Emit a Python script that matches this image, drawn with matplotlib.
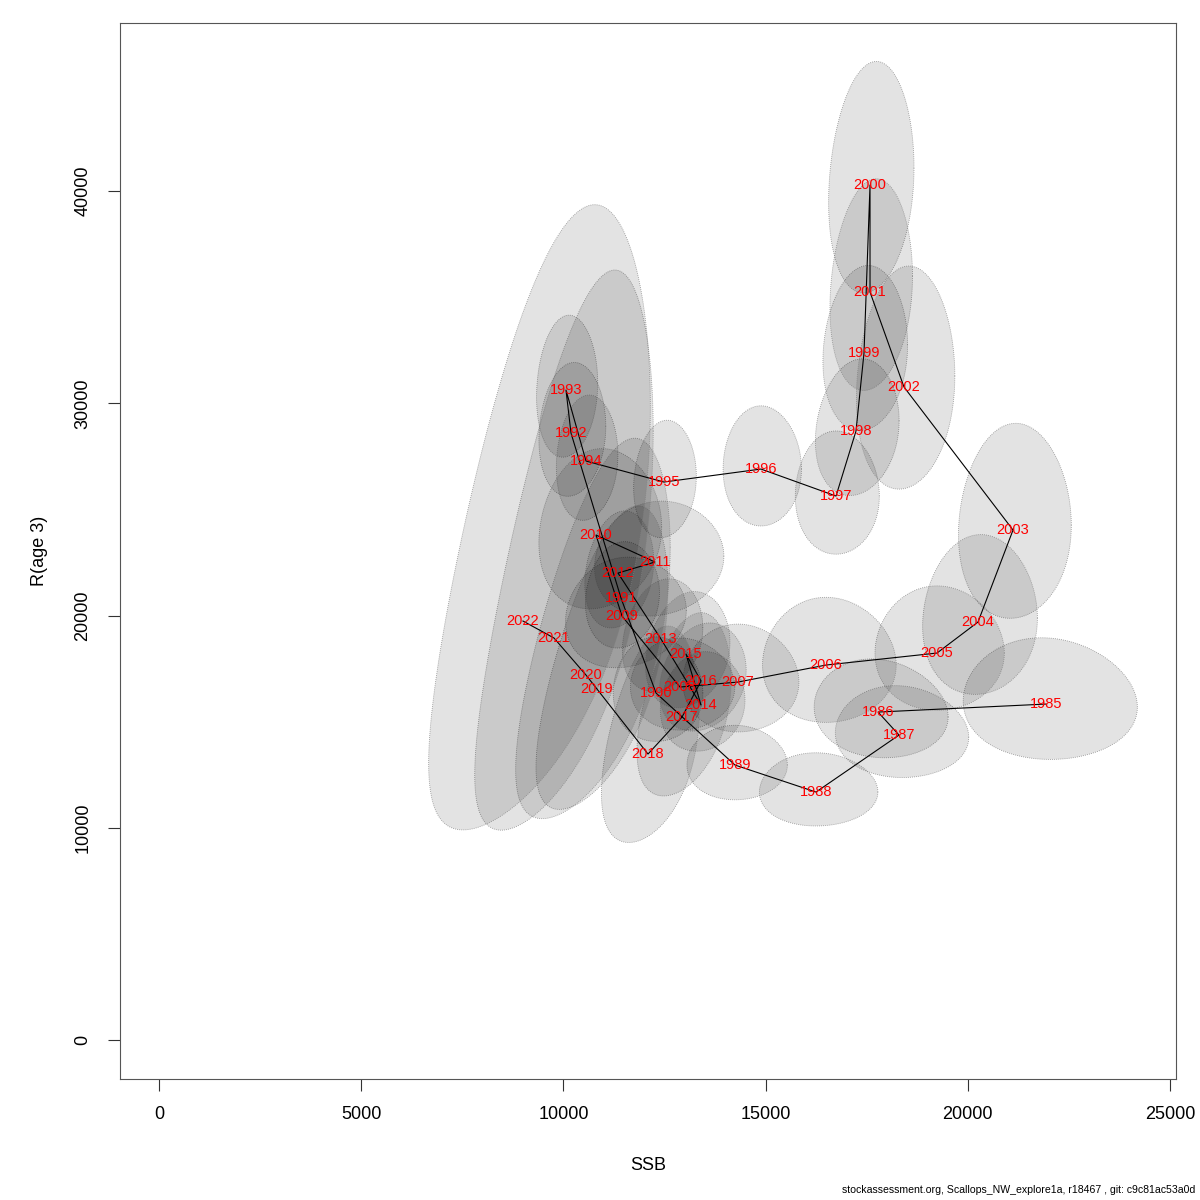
import numpy as np
import matplotlib
matplotlib.use("Agg")
import matplotlib.pyplot as plt
from matplotlib.patches import Polygon

plt.rcParams['font.family'] = ['Liberation Sans', 'DejaVu Sans']

years = list(range(1985, 2023))
ssb = [21934, 17780, 18299, 16246, 14243, 12290, 11424, 10188, 10064, 10559,
       12488, 14886, 16741, 17235, 17433, 17582, 17582, 18422, 21118, 20252,
       19238, 16494, 14318, 12883, 11449, 10806, 12265, 11350, 12413, 13403,
       13032, 13403, 12933, 12092, 10831, 10559, 9768, 9001]
rec = [15830, 15453, 14370, 11684, 12956, 16349, 20825, 28598, 30624, 27279,
       26290, 26902, 25630, 28693, 32367, 40283, 35241, 30766, 24028, 19694,
       18233, 17668, 16867, 16631, 19976, 23793, 22521, 22002, 18893, 15783,
       18186, 16914, 15218, 13475, 16537, 17197, 18940, 19741]
# half-widths of the confidence region on log scale and log-correlation
log_ssb_hw = [0.098, 0.093, 0.090, 0.090, 0.087, 0.090, 0.080, 0.081, 0.075, 0.072,
              0.062, 0.065, 0.062, 0.060, 0.060, 0.060, 0.058, 0.066, 0.066, 0.070,
              0.083, 0.100, 0.100, 0.100, 0.130, 0.140, 0.130, 0.075, 0.080, 0.078,
              0.080, 0.080, 0.090, 0.100, 0.150, 0.180, 0.224, 0.300]
log_rec_hw = [0.180, 0.150, 0.150, 0.147, 0.135, 0.150, 0.120, 0.110, 0.109, 0.108,
              0.105, 0.105, 0.113, 0.112, 0.120, 0.135, 0.141, 0.170, 0.190, 0.190,
              0.160, 0.166, 0.150, 0.130, 0.130, 0.158, 0.120, 0.125, 0.140, 0.148,
              0.150, 0.150, 0.280, 0.370, 0.420, 0.500, 0.650, 0.690]
log_corr = [-0.05, -0.10, -0.05, 0.0, 0.0, 0.0, 0.10, 0.10, 0.10, 0.10,
            0.10, 0.0, 0.0, 0.15, 0.10, 0.15, 0.15, 0.10, 0.05, 0.05,
            0.0, 0.0, 0.0, 0.0, 0.10, 0.10, 0.10, 0.20, 0.20, 0.10,
            0.20, 0.20, 0.40, 0.40, 0.60, 0.60, 0.64, 0.60]

xticks = [0, 5000, 10000, 15000, 20000, 25000]
yticks = [0, 10000, 20000, 30000, 40000]

fig = plt.figure(figsize=(12, 12), dpi=100)
ax = fig.add_axes([0.1, 0.1008, 0.88, 0.88])
ax.set_xlim(-964, 25148)
ax.set_ylim(-1837, 47915)

t = np.linspace(0, 2 * np.pi, 200)
for x0, y0, hx, hy, r in zip(ssb, rec, log_ssb_hw, log_rec_hw, log_corr):
    u = np.cos(t)
    v = r * np.cos(t) + np.sqrt(1 - r * r) * np.sin(t)
    px = np.exp(np.log(x0) + hx * u)
    py = np.exp(np.log(y0) + hy * v)
    poly = Polygon(np.column_stack([px, py]), closed=True,
                   facecolor=(0, 0, 0, 0.11), edgecolor=(0.5, 0.5, 0.5, 0.85),
                   linestyle=(0, (1, 1.5)), linewidth=0.6)
    ax.add_patch(poly)

ax.plot(ssb, rec, color='black', linewidth=0.8)
for yr, x0, y0 in zip(years, ssb, rec):
    ax.text(x0, y0, str(yr), color='red', fontsize=10.5, ha='center', va='center')

ax.set_xticks(xticks)
ax.set_yticks(yticks)
ax.set_xticklabels([str(v) for v in xticks], fontsize=13)
ax.set_yticklabels([str(v) for v in yticks], fontsize=13, rotation=90, va='center')
ax.tick_params(axis='both', direction='out', length=8.6, width=0.8, color='#333333')
ax.tick_params(axis='x', pad=11)
ax.tick_params(axis='y', pad=12)
for s in ax.spines.values():
    s.set_linewidth(0.8)
    s.set_color('#555555')
ax.set_xlabel('SSB', fontsize=13, labelpad=24)
ax.set_ylabel('R(age 3)', fontsize=13, labelpad=19)

fig.text(0.996, 0.004, 'stockassessment.org, Scallops_NW_explore1a, r18467 , git: c9c81ac53a0d',
         ha='right', va='bottom', fontsize=7.6)

fig.savefig('out.png', dpi=100)
